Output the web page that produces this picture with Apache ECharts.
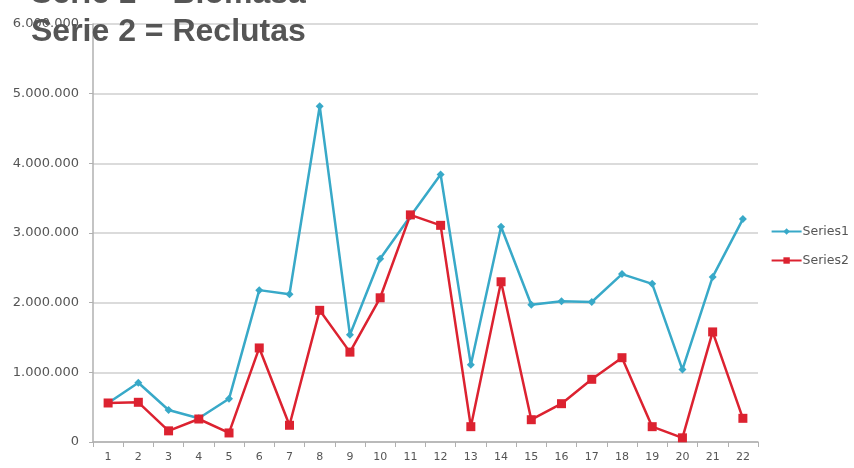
<!DOCTYPE html>
<html>
<head>
    <meta charset="utf-8">
    <title>Biomasa y Reclutas</title>
    <style>
        html, body { margin: 0; padding: 0; background: #fff; }
        #main { width: 854px; height: 468px; }
    </style>
</head>
<body>
<div id="main"></div>
<script src="https://cdn.jsdelivr.net/npm/echarts@6/dist/echarts.min.js"></script>
<script>
    // categorias (años 1..22)
    var categories = ['1', '2', '3', '4', '5', '6', '7', '8', '9', '10', '11',
        '12', '13', '14', '15', '16', '17', '18', '19', '20', '21', '22'];
    // Serie 1 = Biomasa
    var series1 = [560000, 850000, 460000, 340000, 620000, 2180000, 2120000, 4820000, 1540000, 2630000, 3240000,
        3840000, 1110000, 3090000, 1970000, 2020000, 2010000, 2410000, 2270000, 1040000, 2370000, 3200000];
    // Serie 2 = Reclutas
    var series2 = [560000, 570000, 160000, 330000, 130000, 1350000, 240000, 1890000, 1290000, 2070000, 3260000,
        3110000, 220000, 2300000, 320000, 550000, 900000, 1210000, 220000, 60000, 1580000, 340000];
    var yTicks = [0, 1000000, 2000000, 3000000, 4000000, 5000000, 6000000];

    var myChart = echarts.init(document.getElementById('main'));

    function fmt(v) {
        return String(v).replace(/\B(?=(\d{3})+(?!\d))/g, '.');
    }

    myChart.setOption({
        animation: false,
        title: [
            {
                text: 'Serie 1 = Biomasa',
                left: 26,
                top: -27,
                textStyle: { fontFamily: 'Liberation Sans', fontSize: 32, fontWeight: 'bold', color: '#555' }
            },
            {
                text: 'Serie 2 = Reclutas',
                left: 26,
                top: 11,
                textStyle: { fontFamily: 'Liberation Sans', fontSize: 32, fontWeight: 'bold', color: '#555' }
            }
        ],
        legend: {
            orient: 'vertical',
            right: 0,
            top: 220,
            itemWidth: 30,
            itemHeight: 8,
            itemGap: 16,
            textStyle: { fontFamily: 'DejaVu Sans', fontSize: 12.5, color: '#555', padding: [0, 0, 0, -4] },
            data: ['Series1', 'Series2']
        },
        grid: {
            left: 93,
            right: 96,
            top: 24,
            bottom: 26
        },
        xAxis: {
            type: 'category',
            boundaryGap: true,
            data: categories,
            axisLine: { lineStyle: { color: '#b0b0b0', width: 1.5 } },
            axisTick: { show: true, length: 5, lineStyle: { color: '#b0b0b0' } },
            axisLabel: { fontFamily: 'DejaVu Sans', fontSize: 11, color: '#555', margin: 10 }
        },
        yAxis: {
            type: 'value',
            min: yTicks[0],
            max: yTicks[yTicks.length - 1],
            interval: 1000000,
            axisLine: { show: true, lineStyle: { color: '#b0b0b0', width: 1.5 } },
            axisTick: { show: true, length: 4, lineStyle: { color: '#b0b0b0' } },
            splitLine: { lineStyle: { color: '#cfcfcf', width: 1.5 } },
            axisLabel: {
                fontFamily: 'DejaVu Sans', fontSize: 13, color: '#555', margin: 14,
                formatter: function (v) { return fmt(v); }
            }
        },
        series: [
            {
                name: 'Series1',
                type: 'line',
                data: series1,
                symbol: 'diamond',
                symbolSize: 8,
                lineStyle: { color: '#38a9c8', width: 2.5 },
                itemStyle: { color: '#38a9c8' }
            },
            {
                name: 'Series2',
                type: 'line',
                data: series2,
                symbol: 'rect',
                symbolSize: 9,
                lineStyle: { color: '#dc2230', width: 2.5 },
                itemStyle: { color: '#dc2230' }
            }
        ]
    });
</script>
</body>
</html>
